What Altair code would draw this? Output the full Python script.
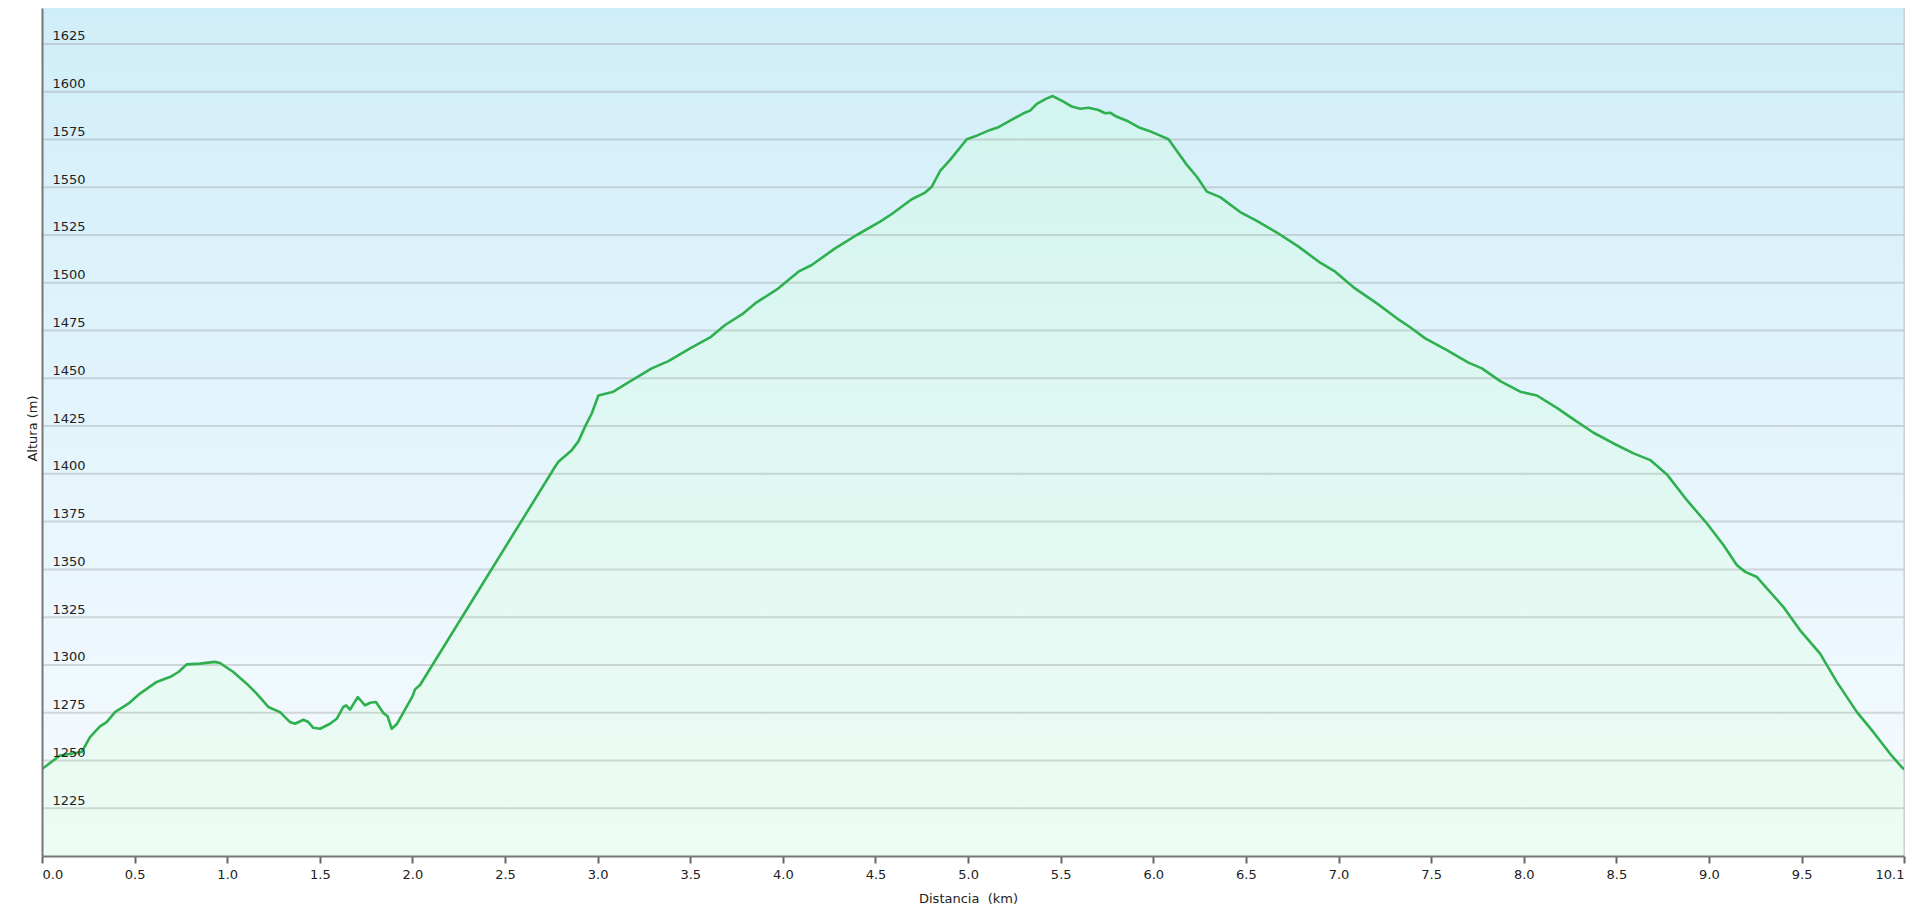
import altair as alt
import pandas as pd

# ---- data ----
distance_km = [
    0.000, 0.097, 0.214, 0.259, 0.313, 0.349, 0.394, 0.466, 0.529, 0.619,
    0.700, 0.737, 0.781, 0.853, 0.934, 0.961, 1.033, 1.105, 1.159, 1.222,
    1.285, 1.339, 1.366, 1.411, 1.438, 1.465, 1.501, 1.555, 1.591, 1.627,
    1.642, 1.663, 1.705, 1.744, 1.771, 1.803, 1.843, 1.866, 1.888, 1.915,
    2.000, 2.014, 2.041, 2.770, 2.788, 2.860, 2.896, 2.932, 2.968, 3.004,
    3.085, 3.157, 3.292, 3.382, 3.499, 3.607, 3.688, 3.787, 3.850, 3.976,
    4.084, 4.156, 4.282, 4.399, 4.525, 4.588, 4.696, 4.768, 4.804, 4.849,
    4.903, 4.993, 5.047, 5.119, 5.164, 5.227, 5.299, 5.335, 5.371, 5.425,
    5.457, 5.515, 5.560, 5.605, 5.650, 5.704, 5.740, 5.767, 5.794, 5.857,
    5.920, 5.974, 6.028, 6.082, 6.136, 6.181, 6.235, 6.289, 6.361, 6.469,
    6.559, 6.667, 6.784, 6.901, 6.982, 7.081, 7.207, 7.315, 7.387, 7.468,
    7.585, 7.701, 7.774, 7.873, 7.981, 8.071, 8.179, 8.269, 8.377, 8.485,
    8.593, 8.683, 8.773, 8.881, 8.989, 9.079, 9.151, 9.196, 9.259, 9.402,
    9.492, 9.600, 9.691, 9.799, 9.888, 9.978, 10.041, 10.053,
]
elevation_m = [
    1245.5, 1252.6, 1254.4, 1262.2, 1267.8, 1270.1, 1275.3, 1279.7, 1285.0, 1291.1,
    1294.1, 1296.3, 1300.3, 1300.7, 1301.6, 1301.0, 1296.3, 1290.2, 1285.0, 1278.0,
    1275.3, 1270.1, 1269.2, 1271.3, 1270.1, 1267.1, 1266.6, 1269.2, 1271.8, 1278.0,
    1278.8, 1276.6, 1283.2, 1278.8, 1280.2, 1280.6, 1274.8, 1273.1, 1266.6, 1268.9,
    1283.5, 1287.2, 1289.5, 1403.7, 1406.3, 1412.4, 1417.0, 1424.7, 1431.6, 1441.0,
    1443.0, 1447.3, 1455.2, 1459.0, 1465.7, 1471.4, 1477.9, 1484.0, 1489.2, 1497.1,
    1505.8, 1509.3, 1518.0, 1525.0, 1532.0, 1536.0, 1543.7, 1547.2, 1550.3, 1558.5,
    1564.3, 1575.1, 1577.0, 1580.0, 1581.4, 1584.8, 1588.7, 1590.1, 1593.6, 1596.5,
    1597.7, 1594.8, 1592.2, 1591.1, 1591.6, 1590.4, 1588.7, 1589.0, 1587.3, 1584.8,
    1581.4, 1579.6, 1577.4, 1575.1, 1567.8, 1561.7, 1555.5, 1547.7, 1544.8, 1537.0,
    1532.4, 1526.3, 1518.9, 1510.5, 1505.8, 1497.6, 1489.2, 1481.4, 1476.7, 1470.9,
    1464.8, 1458.2, 1455.2, 1448.5, 1443.0, 1441.0, 1434.5, 1428.5, 1421.5, 1415.9,
    1410.7, 1407.2, 1399.7, 1386.2, 1374.0, 1362.6, 1352.2, 1348.7, 1346.0, 1330.3,
    1318.1, 1305.9, 1291.0, 1275.3, 1264.8, 1253.5, 1246.5, 1245.5,
]
y_ticks = [1225, 1250, 1275, 1300, 1325, 1350, 1375, 1400, 1425, 1450,
           1475, 1500, 1525, 1550, 1575, 1600, 1625]
x_ticks = [0.0, 0.5, 1.0, 1.5, 2.0, 2.5, 3.0, 3.5, 4.0, 4.5, 5.0, 5.5,
           6.0, 6.5, 7.0, 7.5, 8.0, 8.5, 9.0, 9.5, 10.053]

X_MAX = 10.053
Y_MIN, Y_MAX = 1200, 1643.8
W, H = 1862, 848
FONT = "DejaVu Sans"

df = pd.DataFrame({"km": distance_km, "alt": elevation_m})
grid_df = pd.DataFrame({"g": y_ticks})
one_df = pd.DataFrame({"k": [0]})

xs = alt.Scale(domain=[0, X_MAX], nice=False, zero=False)
ys = alt.Scale(domain=[Y_MIN, Y_MAX], nice=False, zero=False)

x_axis = alt.Axis(
    values=x_ticks, format=".1f", grid=False, ticks=True, tickSize=7, tickWidth=2,
    tickColor="#666666", domainColor="#777777", domainWidth=2, labelPadding=5,
    labelFlush=True, labelOverlap=False, labelFont=FONT, labelFontSize=13,
    labelColor="#222222", title="Distancia \u00a0(km)", titleFont=FONT,
    titleFontSize=13, titleFontWeight="normal", titleColor="#222222",
    titleX=926, titleY=42, titleAlign="center", titleBaseline="middle", zindex=1,
)
y_axis = alt.Axis(
    values=y_ticks, format="d", grid=False, ticks=False, tickSize=0, labelAlign="left",
    labelPadding=-10, labelBaseline="alphabetic", labelOffset=-4,
    labelOverlap=False, labelFont=FONT, labelFontSize=13, labelColor="#222222",
    domainColor="#777777", domainWidth=2, title="Altura (m)", titleFont=FONT,
    titleFontSize=13, titleFontWeight="normal", titleColor="#222222",
    titleAngle=270, titleX=-10, titleY=420, titleAlign="center",
    titleBaseline="middle", zindex=1,
)

bg = alt.Chart(one_df).mark_rect(
    fill=alt.Gradient(
        gradient="linear",
        stops=[alt.GradientStop(color="#d0eef9", offset=0),
               alt.GradientStop(color="#f7fbff", offset=1)],
        x1=0, x2=0, y1=0, y2=1,
    )
).encode(x=alt.value(0), x2=alt.value(W), y=alt.value(0), y2=alt.value(H))

area = alt.Chart(df).mark_area(
    clip=True,
    fill=alt.Gradient(
        gradient="linear",
        stops=[alt.GradientStop(color="#d3f4ef", offset=0),
               alt.GradientStop(color="#edfcf4", offset=1)],
        x1=0, x2=0, y1=0, y2=1,
    ),
).encode(
    x=alt.X("km:Q", scale=xs, axis=x_axis),
    y=alt.Y("alt:Q", scale=ys, axis=y_axis),
    y2=alt.datum(Y_MIN),
)

grid = alt.Chart(grid_df).mark_rule(color="#888888", opacity=0.3, strokeWidth=2).encode(
    y=alt.Y("g:Q", scale=ys, axis=y_axis),
    x=alt.value(0),
    x2=alt.value(W),
)

right_edge = alt.Chart(one_df).mark_rule(color="#c8c8c8", strokeWidth=1).encode(
    x=alt.value(W), y=alt.value(0), y2=alt.value(H)
)

line = alt.Chart(df).mark_line(
    color="#2eb04f", strokeWidth=2.6, clip=True, strokeJoin="round", strokeCap="round"
).encode(
    x=alt.X("km:Q", scale=xs, axis=x_axis),
    y=alt.Y("alt:Q", scale=ys, axis=y_axis),
)

chart = alt.layer(bg, area, grid, right_edge, line).properties(
    width=W,
    height=H,
    autosize=alt.AutoSizeParams(type="none"),
    padding={"left": 34, "top": 0, "right": 4, "bottom": 50},
).configure_view(stroke=None).configure(background="white")

chart.save("out.html", embed_options={"renderer": "svg", "actions": False})
